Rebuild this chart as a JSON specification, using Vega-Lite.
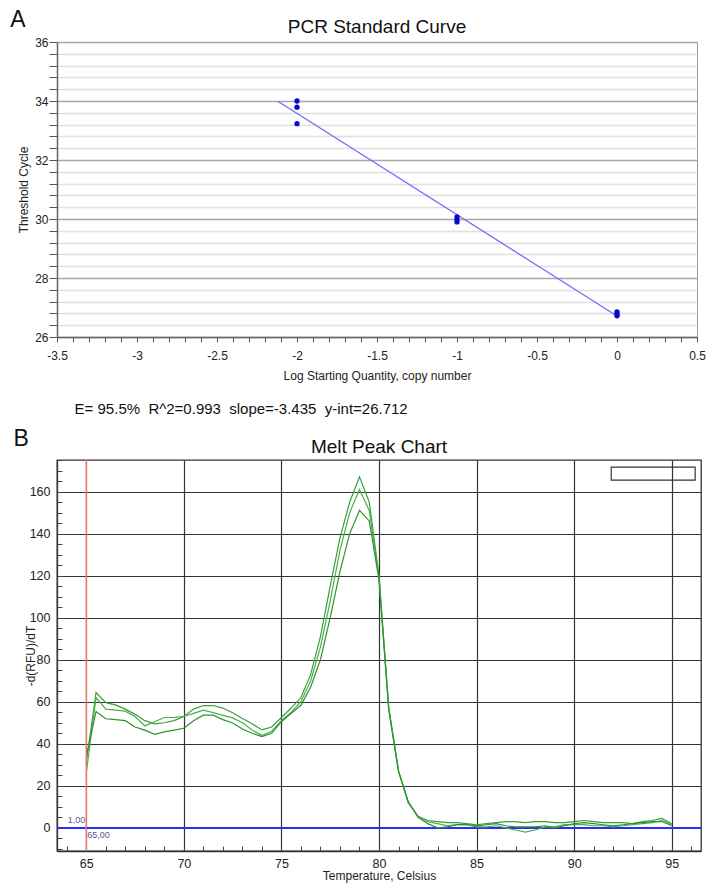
{
  "$schema": "https://vega.github.io/schema/vega-lite/v6.json",
  "background": "white",
  "padding": {"left": 10, "top": 8, "right": 0, "bottom": 0},
  "config": {
    "font": "Liberation Sans",
    "view": {"stroke": null},
    "concat": {"spacing": 10},
    "title": {"fontWeight": "normal", "color": "#111"},
    "axis": {"labelFont": "Liberation Sans", "titleFont": "Liberation Sans", "titleFontWeight": "normal", "labelColor": "#222", "titleColor": "#222"}
  },
  "datasets": {
    "one": [{}],
    "std": [
      {"log": -2, "ct": 34.0},
      {"log": -2, "ct": 33.79},
      {"log": -2, "ct": 33.23},
      {"log": -1, "ct": 30.07},
      {"log": -1, "ct": 29.98},
      {"log": -1, "ct": 29.9},
      {"log": 0, "ct": 26.85},
      {"log": 0, "ct": 26.78},
      {"log": 0, "ct": 26.72}
    ],
    "fit": [
      {"log": -2.12, "ct": 33.99},
      {"log": 0, "ct": 26.71}
    ],
    "stats": [
      {"label": "E= 95.5%\u00a0 R^2=0.993\u00a0 slope=-3.435\u00a0 y-int=26.712"}
    ],
    "melt": [
      {"well": "w1", "t": 65, "v": 31}, {"well": "w1", "t": 65.5, "v": 64.4}, {"well": "w1", "t": 66, "v": 59.6}, {"well": "w1", "t": 66.5, "v": 58.5}, {"well": "w1", "t": 67, "v": 56.5}, {"well": "w1", "t": 67.5, "v": 54}, {"well": "w1", "t": 68, "v": 51}, {"well": "w1", "t": 68.5, "v": 49.5}, {"well": "w1", "t": 69, "v": 50}, {"well": "w1", "t": 69.5, "v": 51}, {"well": "w1", "t": 70, "v": 53}, {"well": "w1", "t": 70.5, "v": 56.5}, {"well": "w1", "t": 71, "v": 58.2}, {"well": "w1", "t": 71.5, "v": 58.2}, {"well": "w1", "t": 72, "v": 57}, {"well": "w1", "t": 72.5, "v": 54.8}, {"well": "w1", "t": 73, "v": 52}, {"well": "w1", "t": 73.5, "v": 49.5}, {"well": "w1", "t": 74, "v": 46.6}, {"well": "w1", "t": 74.5, "v": 48}, {"well": "w1", "t": 75, "v": 52.5}, {"well": "w1", "t": 75.5, "v": 57}, {"well": "w1", "t": 76, "v": 62}, {"well": "w1", "t": 76.5, "v": 73}, {"well": "w1", "t": 77, "v": 91}, {"well": "w1", "t": 77.5, "v": 115}, {"well": "w1", "t": 78, "v": 138}, {"well": "w1", "t": 78.5, "v": 155}, {"well": "w1", "t": 79, "v": 167}, {"well": "w1", "t": 79.5, "v": 155}, {"well": "w1", "t": 80, "v": 120}, {"well": "w1", "t": 80.5, "v": 57}, {"well": "w1", "t": 81, "v": 27}, {"well": "w1", "t": 81.5, "v": 12}, {"well": "w1", "t": 82, "v": 5.5}, {"well": "w1", "t": 82.5, "v": 3.5}, {"well": "w1", "t": 83, "v": 3}, {"well": "w1", "t": 83.5, "v": 2.5}, {"well": "w1", "t": 84, "v": 2.5}, {"well": "w1", "t": 84.5, "v": 2}, {"well": "w1", "t": 85, "v": 1.5}, {"well": "w1", "t": 85.5, "v": 2}, {"well": "w1", "t": 86, "v": 2.5}, {"well": "w1", "t": 86.5, "v": 3}, {"well": "w1", "t": 87, "v": 3}, {"well": "w1", "t": 87.5, "v": 2.5}, {"well": "w1", "t": 88, "v": 3}, {"well": "w1", "t": 88.5, "v": 3}, {"well": "w1", "t": 89, "v": 2.5}, {"well": "w1", "t": 89.5, "v": 2.5}, {"well": "w1", "t": 90, "v": 3}, {"well": "w1", "t": 90.5, "v": 3.5}, {"well": "w1", "t": 91, "v": 3}, {"well": "w1", "t": 91.5, "v": 2.5}, {"well": "w1", "t": 92, "v": 2.5}, {"well": "w1", "t": 92.5, "v": 2.5}, {"well": "w1", "t": 93, "v": 2}, {"well": "w1", "t": 93.5, "v": 3}, {"well": "w1", "t": 94, "v": 3.5}, {"well": "w1", "t": 94.5, "v": 4.5}, {"well": "w1", "t": 95, "v": 2},
      {"well": "w2", "t": 65, "v": 26}, {"well": "w2", "t": 65.5, "v": 62}, {"well": "w2", "t": 66, "v": 56.5}, {"well": "w2", "t": 66.5, "v": 56}, {"well": "w2", "t": 67, "v": 55.5}, {"well": "w2", "t": 67.5, "v": 53}, {"well": "w2", "t": 68, "v": 48.5}, {"well": "w2", "t": 68.5, "v": 50.5}, {"well": "w2", "t": 69, "v": 52.5}, {"well": "w2", "t": 69.5, "v": 52.5}, {"well": "w2", "t": 70, "v": 53}, {"well": "w2", "t": 70.5, "v": 54.5}, {"well": "w2", "t": 71, "v": 56}, {"well": "w2", "t": 71.5, "v": 54.8}, {"well": "w2", "t": 72, "v": 53.5}, {"well": "w2", "t": 72.5, "v": 52.3}, {"well": "w2", "t": 73, "v": 50}, {"well": "w2", "t": 73.5, "v": 46.6}, {"well": "w2", "t": 74, "v": 43.9}, {"well": "w2", "t": 74.5, "v": 46}, {"well": "w2", "t": 75, "v": 51}, {"well": "w2", "t": 75.5, "v": 55}, {"well": "w2", "t": 76, "v": 60}, {"well": "w2", "t": 76.5, "v": 70}, {"well": "w2", "t": 77, "v": 86}, {"well": "w2", "t": 77.5, "v": 108}, {"well": "w2", "t": 78, "v": 132}, {"well": "w2", "t": 78.5, "v": 150}, {"well": "w2", "t": 79, "v": 161}, {"well": "w2", "t": 79.5, "v": 151}, {"well": "w2", "t": 80, "v": 119}, {"well": "w2", "t": 80.5, "v": 57}, {"well": "w2", "t": 81, "v": 27}, {"well": "w2", "t": 81.5, "v": 12}, {"well": "w2", "t": 82, "v": 5.5}, {"well": "w2", "t": 82.5, "v": 3}, {"well": "w2", "t": 83, "v": 2}, {"well": "w2", "t": 83.5, "v": 1}, {"well": "w2", "t": 84, "v": 1.5}, {"well": "w2", "t": 84.5, "v": 1.5}, {"well": "w2", "t": 85, "v": 0.5}, {"well": "w2", "t": 85.5, "v": 0.5}, {"well": "w2", "t": 86, "v": 1}, {"well": "w2", "t": 86.5, "v": 0}, {"well": "w2", "t": 87, "v": -1}, {"well": "w2", "t": 87.5, "v": -2}, {"well": "w2", "t": 88, "v": -1}, {"well": "w2", "t": 88.5, "v": 0.5}, {"well": "w2", "t": 89, "v": 0.5}, {"well": "w2", "t": 89.5, "v": 1.5}, {"well": "w2", "t": 90, "v": 1.5}, {"well": "w2", "t": 90.5, "v": 1.5}, {"well": "w2", "t": 91, "v": 1}, {"well": "w2", "t": 91.5, "v": 1}, {"well": "w2", "t": 92, "v": 0.5}, {"well": "w2", "t": 92.5, "v": 1}, {"well": "w2", "t": 93, "v": 1.5}, {"well": "w2", "t": 93.5, "v": 2}, {"well": "w2", "t": 94, "v": 2.5}, {"well": "w2", "t": 94.5, "v": 3.5}, {"well": "w2", "t": 95, "v": 1.5},
      {"well": "w3", "t": 65, "v": 34}, {"well": "w3", "t": 65.5, "v": 55.3}, {"well": "w3", "t": 66, "v": 51.9}, {"well": "w3", "t": 66.5, "v": 51.5}, {"well": "w3", "t": 67, "v": 51}, {"well": "w3", "t": 67.5, "v": 48}, {"well": "w3", "t": 68, "v": 46.5}, {"well": "w3", "t": 68.5, "v": 44.5}, {"well": "w3", "t": 69, "v": 45.7}, {"well": "w3", "t": 69.5, "v": 46.5}, {"well": "w3", "t": 70, "v": 47.4}, {"well": "w3", "t": 70.5, "v": 51}, {"well": "w3", "t": 71, "v": 53.6}, {"well": "w3", "t": 71.5, "v": 53.6}, {"well": "w3", "t": 72, "v": 51.5}, {"well": "w3", "t": 72.5, "v": 49.9}, {"well": "w3", "t": 73, "v": 47}, {"well": "w3", "t": 73.5, "v": 45}, {"well": "w3", "t": 74, "v": 43.4}, {"well": "w3", "t": 74.5, "v": 45}, {"well": "w3", "t": 75, "v": 50.5}, {"well": "w3", "t": 75.5, "v": 54.5}, {"well": "w3", "t": 76, "v": 58.3}, {"well": "w3", "t": 76.5, "v": 67}, {"well": "w3", "t": 77, "v": 80}, {"well": "w3", "t": 77.5, "v": 100}, {"well": "w3", "t": 78, "v": 122}, {"well": "w3", "t": 78.5, "v": 140}, {"well": "w3", "t": 79, "v": 151}, {"well": "w3", "t": 79.5, "v": 146}, {"well": "w3", "t": 80, "v": 118}, {"well": "w3", "t": 80.5, "v": 56}, {"well": "w3", "t": 81, "v": 27}, {"well": "w3", "t": 81.5, "v": 12.5}, {"well": "w3", "t": 82, "v": 5}, {"well": "w3", "t": 82.5, "v": 2}, {"well": "w3", "t": 83, "v": 0}, {"well": "w3", "t": 83.5, "v": 0.5}, {"well": "w3", "t": 84, "v": 1.5}, {"well": "w3", "t": 84.5, "v": 1.5}, {"well": "w3", "t": 85, "v": 1}, {"well": "w3", "t": 85.5, "v": 1.5}, {"well": "w3", "t": 86, "v": 2}, {"well": "w3", "t": 86.5, "v": 1}, {"well": "w3", "t": 87, "v": 0.5}, {"well": "w3", "t": 87.5, "v": 0.5}, {"well": "w3", "t": 88, "v": 0.5}, {"well": "w3", "t": 88.5, "v": 1}, {"well": "w3", "t": 89, "v": 0}, {"well": "w3", "t": 89.5, "v": 1}, {"well": "w3", "t": 90, "v": 2}, {"well": "w3", "t": 90.5, "v": 2.5}, {"well": "w3", "t": 91, "v": 2}, {"well": "w3", "t": 91.5, "v": 1.5}, {"well": "w3", "t": 92, "v": 1}, {"well": "w3", "t": 92.5, "v": 1.5}, {"well": "w3", "t": 93, "v": 2}, {"well": "w3", "t": 93.5, "v": 2.5}, {"well": "w3", "t": 94, "v": 3}, {"well": "w3", "t": 94.5, "v": 3}, {"well": "w3", "t": 95, "v": 1}
    ]
  },
  "spacing": 11,
  "vconcat": [
    {
      "title": {"text": "A", "fontSize": 23, "anchor": "start", "frame": "bounds", "offset": -14, "dx": -7, "color": "#111"},
      "spacing": 20,
      "vconcat": [
        {
          "width": 640,
          "height": 295,
          "title": {"text": "PCR Standard Curve", "fontSize": 19, "offset": -1, "anchor": "middle", "frame": "group"},
          "view": {"stroke": "#9a9a9a", "strokeWidth": 1},
          "layer": [
            {
              "data": {"name": "fit"},
              "mark": {"type": "line", "color": "#6a6aff", "strokeWidth": 1.2},
              "encoding": {
                "x": {
                  "field": "log", "type": "quantitative",
                  "scale": {"domain": [-3.5, 0.5], "nice": false, "zero": false},
                  "axis": {
                    "title": "Log Starting Quantity, copy number",
                    "titleFontSize": 12, "titlePadding": 9,
                    "tickCount": 100,
                    "values": [-3.5, -3.4, -3.3, -3.2, -3.1, -3, -2.9, -2.8, -2.7, -2.6, -2.5, -2.4, -2.3, -2.2, -2.1, -2, -1.9, -1.8, -1.7, -1.6, -1.5, -1.4, -1.3, -1.2, -1.1, -1, -0.9, -0.8, -0.7, -0.6, -0.5, -0.4, -0.3, -0.2, -0.1, 0, 0.1, 0.2, 0.3, 0.4, 0.5],
                    "labelExpr": "abs(round(datum.value * 10)) % 5 === 0 ? ('' + datum.value) : ''",
                    "labelFontSize": 12, "labelPadding": 8, "labelFlush": false, "labelOverlap": false,
                    "grid": false,
                    "tickSize": 5, "tickColor": "#555", "domainColor": "#666", "domainWidth": 1.5
                  }
                },
                "y": {
                  "field": "ct", "type": "quantitative",
                  "scale": {"domain": [26, 36], "nice": false, "zero": false},
                  "axis": {
                    "title": "Threshold Cycle",
                    "titleFontSize": 12, "titlePadding": 4,
                    "tickCount": 100,
                    "values": [26, 26.4, 26.8, 27.2, 27.6, 28, 28.4, 28.8, 29.2, 29.6, 30, 30.4, 30.8, 31.2, 31.6, 32, 32.4, 32.8, 33.2, 33.6, 34, 34.4, 34.8, 35.2, 35.6, 36],
                    "labelExpr": "datum.value % 2 === 0 ? ('' + datum.value) : ''",
                    "labelFontSize": 12, "labelPadding": 1, "labelOverlap": false, "labelFlush": false,
                    "grid": true,
                    "gridColor": {"condition": {"test": "datum.value % 2 === 0", "value": "#a8a8a8"}, "value": "#e0e0e0"},
                    "gridWidth": 1.3,
                    "tickSize": 8, "tickColor": "#555", "domainColor": "#666", "domainWidth": 1.5
                  }
                }
              }
            },
            {
              "data": {"name": "std"},
              "mark": {"type": "circle", "size": 28, "color": "#0a0ac8", "opacity": 1},
              "encoding": {
                "x": {"field": "log", "type": "quantitative"},
                "y": {"field": "ct", "type": "quantitative"}
              }
            }
          ]
        },
        {
          "width": 640,
          "height": 14,
          "data": {"name": "stats"},
          "mark": {"type": "text", "align": "left", "baseline": "middle", "fontSize": 15, "color": "#111"},
          "encoding": {
            "x": {"datum": -3.39, "type": "quantitative", "scale": {"domain": [-3.5, 0.5], "nice": false, "zero": false}, "axis": null},
            "text": {"field": "label", "type": "nominal"}
          }
        }
      ]
    },
    {
      "title": {"text": "B", "fontSize": 23, "anchor": "start", "frame": "bounds", "offset": -14, "dx": -10, "color": "#111"},
      "vconcat": [
        {
          "width": 644,
          "height": 391,
          "title": {"text": "Melt Peak Chart", "fontSize": 19, "offset": -3, "anchor": "middle", "frame": "group"},
          "view": {"stroke": "#333", "strokeWidth": 1.3},
          "layer": [
            {
              "data": {"name": "one"},
              "mark": {"type": "rule", "color": "#2c2cff", "strokeWidth": 2},
              "encoding": {
                "y": {
                  "datum": 0, "type": "quantitative",
                  "scale": {"domain": [-11, 175], "nice": false, "zero": false},
                  "axis": {
                    "title": "-d(RFU)/dT",
                    "titleFontSize": 12, "titlePadding": -8,
                    "tickCount": 100,
                    "values": [-10, -5, 0, 5, 10, 15, 20, 25, 30, 35, 40, 45, 50, 55, 60, 65, 70, 75, 80, 85, 90, 95, 100, 105, 110, 115, 120, 125, 130, 135, 140, 145, 150, 155, 160, 165, 170, 175],
                    "labelExpr": "(datum.value % 20 === 0 && datum.value >= 0) ? ('' + datum.value) : ''",
                    "labelFontSize": 12.5, "labelPadding": 12, "labelOverlap": false, "labelFlush": false,
                    "grid": true,
                    "gridColor": "#333",
                    "gridOpacity": {"condition": {"test": "datum.value % 20 === 0", "value": 1}, "value": 0},
                    "gridWidth": 1.2,
                    "tickSize": -5, "tickColor": "#444", "domainColor": "#333", "domainWidth": 1.3
                  }
                }
              }
            },
            {
              "data": {"name": "melt"},
              "mark": {"type": "line", "strokeWidth": 1.2, "clip": true},
              "encoding": {
                "x": {
                  "field": "t", "type": "quantitative",
                  "scale": {"domain": [63.5, 96.5], "nice": false, "zero": false},
                  "axis": {
                    "title": "Temperature, Celsius",
                    "titleFontSize": 12, "titlePadding": 1,
                    "tickCount": 100,
                    "values": [64, 65, 66, 67, 68, 69, 70, 71, 72, 73, 74, 75, 76, 77, 78, 79, 80, 81, 82, 83, 84, 85, 86, 87, 88, 89, 90, 91, 92, 93, 94, 95, 96],
                    "labelExpr": "datum.value % 5 === 0 ? ('' + datum.value) : ''",
                    "labelFontSize": 12.5, "labelPadding": 11, "labelOverlap": false, "labelFlush": false,
                    "grid": true,
                    "gridColor": "#333",
                    "gridOpacity": {"condition": {"test": "datum.value % 5 === 0", "value": 1}, "value": 0},
                    "gridWidth": 1.2,
                    "tickSize": -5, "tickColor": "#444", "domainColor": "#333", "domainWidth": 1.3
                  }
                },
                "y": {"field": "v", "type": "quantitative"},
                "color": {"field": "well", "type": "nominal", "scale": {"range": ["#3a9e3a", "#4cae4c", "#2f922f"]}, "legend": null},
                "order": {"field": "t", "type": "quantitative"}
              }
            },
            {
              "data": {"name": "one"},
              "mark": {"type": "rule", "color": "#ff7b6b", "strokeWidth": 1.3},
              "encoding": {"x": {"datum": 65, "type": "quantitative"}}
            },
            {
              "data": {"name": "one"},
              "mark": {"type": "rect", "fill": null, "fillOpacity": 0, "stroke": "#333", "strokeWidth": 1.2},
              "encoding": {
                "x": {"datum": 91.9, "type": "quantitative"},
                "x2": {"datum": 96.2},
                "y": {"datum": 171.6, "type": "quantitative"},
                "y2": {"datum": 165.4}
              }
            },
            {
              "data": {"name": "one"},
              "mark": {"type": "text", "align": "right", "baseline": "bottom", "fontSize": 9, "color": "#5a5a8c", "dx": -1},
              "encoding": {
                "x": {"datum": 65, "type": "quantitative"},
                "y": {"datum": 1.5, "type": "quantitative"},
                "text": {"value": "1,00"}
              }
            },
            {
              "data": {"name": "one"},
              "mark": {"type": "text", "align": "left", "baseline": "top", "fontSize": 9, "color": "#5a5a8c", "dx": 1},
              "encoding": {
                "x": {"datum": 65, "type": "quantitative"},
                "y": {"datum": -1.5, "type": "quantitative"},
                "text": {"value": "65,00"}
              }
            }
          ]
        }
      ]
    }
  ]
}
